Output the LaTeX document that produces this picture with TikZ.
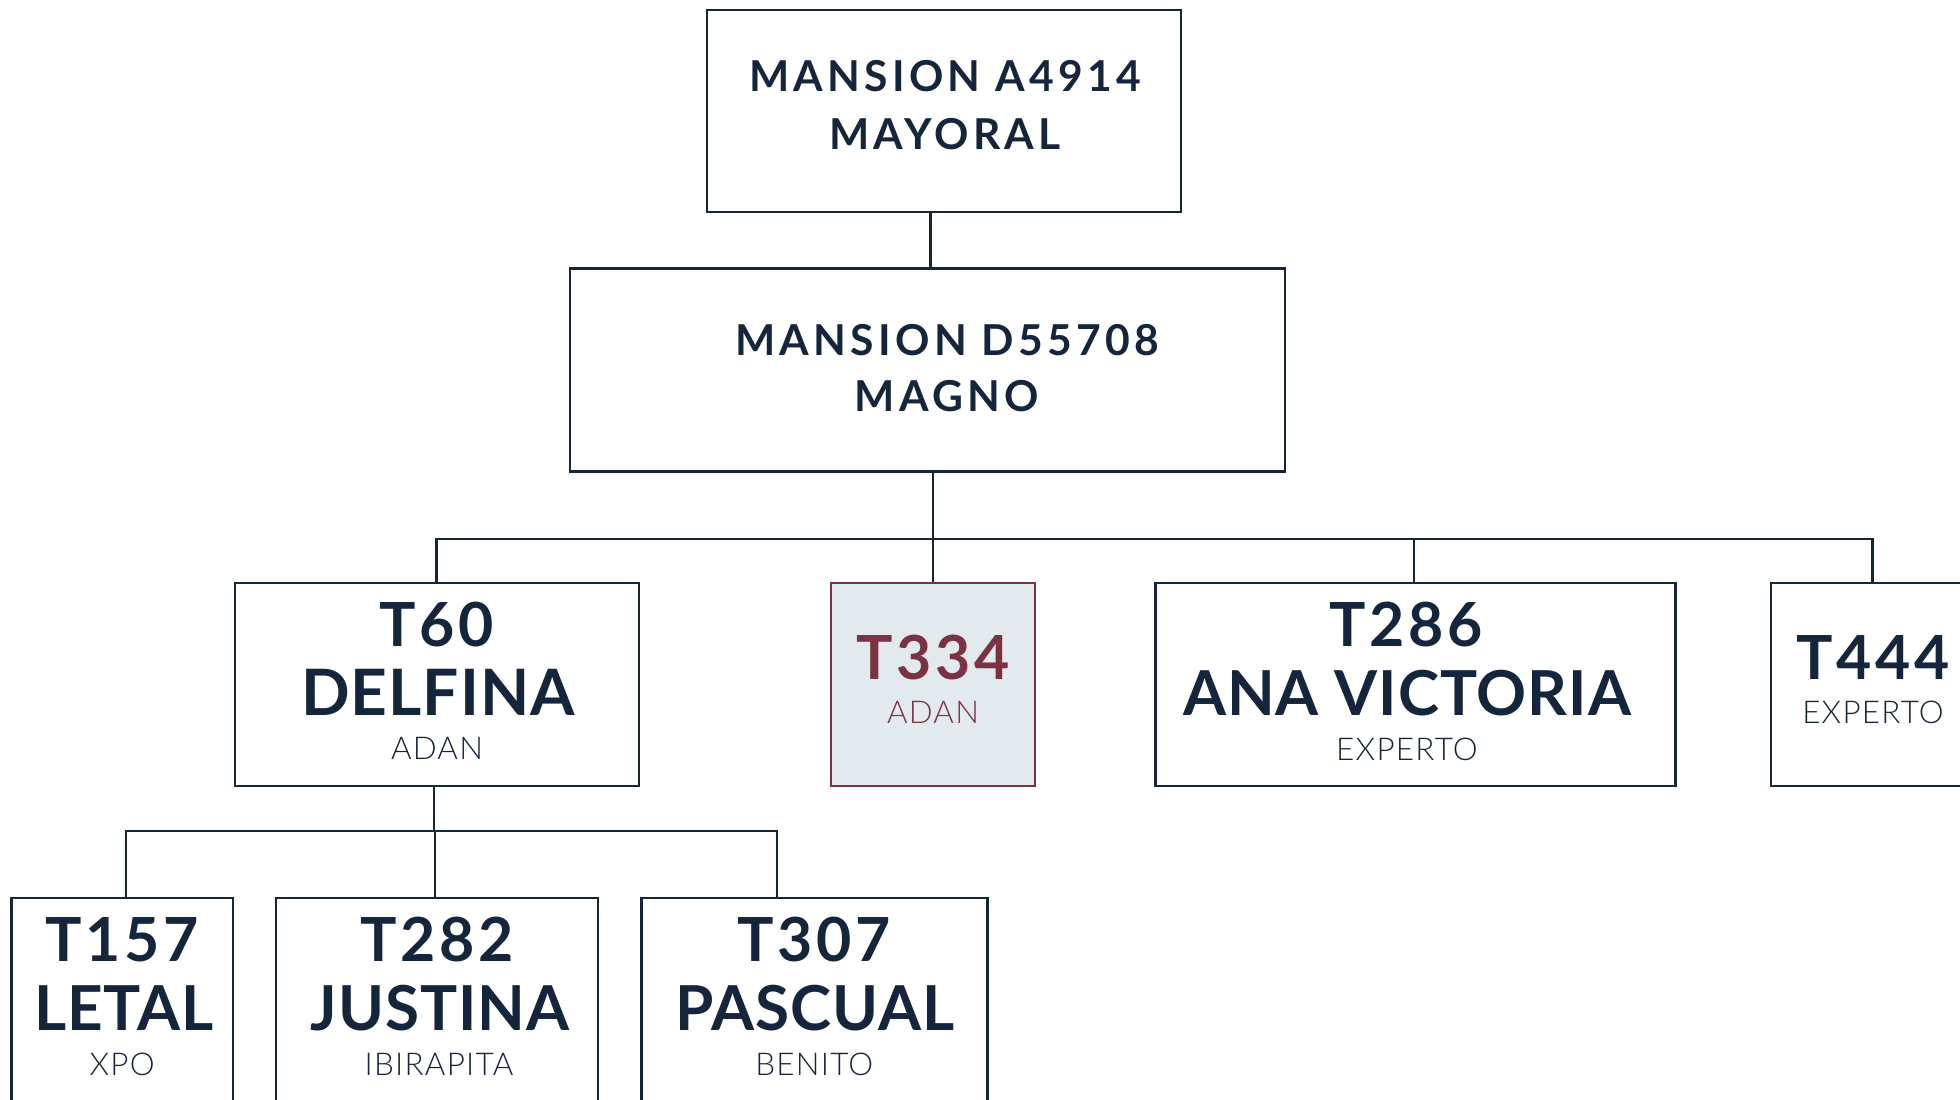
\documentclass[tikz,border=0pt]{standalone}
\usepackage{fontspec}
\setmainfont{Lato}
\newfontfamily\hvy{Lato Bold}[LetterSpace=6]
\newfontfamily\hvyh{Lato Bold}[LetterSpace=10]
\newfontfamily\hvyn{Lato Bold}[LetterSpace=1.5]
\newfontfamily\lgt{Lato Light}[LetterSpace=4]
\definecolor{navy}{HTML}{15263C}
\definecolor{wine}{HTML}{7B3344}
\definecolor{paleblue}{HTML}{E3EAEE}
\tikzset{
  box/.style={draw=navy, line width=1.35pt, rectangle, inner sep=0pt, fill=white},
  hot/.style={draw=wine, fill=paleblue},
  link/.style={draw=navy, line width=1.2pt},
  head/.style={anchor=base, inner sep=0pt, text=navy, font=\hvyh\fontsize{21.3}{24}\selectfont},
  num/.style={anchor=base, inner sep=0pt, text=navy, font=\hvy\fontsize{30.4}{34}\selectfont},
  nam/.style={anchor=base, inner sep=0pt, text=navy, font=\hvyn\fontsize{31}{34}\selectfont},
  sub/.style={anchor=base, inner sep=0pt, text=navy, font=\lgt\fontsize{15.7}{18}\selectfont},
}
\begin{document}
\begin{tikzpicture}[x=0.5pt, y=-0.5pt]
\useasboundingbox (0,0) rectangle (1960,1099);
\clip (0,0) rectangle (1960,1099);
% stem coordinates
\coordinate (sAB) at (930.5,0);
\coordinate (sB) at (932.8,0);
\coordinate (bus) at (0,539);
\coordinate (s60) at (436.5,0);
\coordinate (s334) at (932.8,0);
\coordinate (s286) at (1414,0);
\coordinate (s444) at (1872.3,0);
\coordinate (busb) at (0,831);
\coordinate (s60d) at (434,0);
\coordinate (s157) at (126,0);
\coordinate (s282) at (435,0);
\coordinate (s307) at (776.8,0);
% boxes
\node[box, minimum width=237pt, minimum height=101pt] (A) at (944,111) {};
\node[box, minimum width=357.5pt, minimum height=101.5pt] (B) at (927.5,370.2) {};
\node[box, minimum width=202pt, minimum height=101.5pt] (T60) at (437,684.5) {};
\node[box, hot, minimum width=102pt, minimum height=101.5pt] (T334) at (933,684.5) {};
\node[box, minimum width=260pt, minimum height=101.5pt] (T286) at (1415.7,684.5) {};
\node[box, minimum width=102pt, minimum height=101.5pt] (T444) at (1873,684.5) {};
\node[box, minimum width=110.75pt, minimum height=101.5pt] (T157) at (122.2,999.5) {};
\node[box, minimum width=161pt, minimum height=101.5pt] (T282) at (437,999.5) {};
\node[box, minimum width=173pt, minimum height=101.5pt] (T307) at (814.3,999.5) {};
% connectors
\draw[link] (A.south -| sAB) -- (B.north -| sAB);
\draw[link] (B.south -| sB) -- (bus -| sB);
\draw[link] (T60.north -| s60) -- (bus -| s60) -- (bus -| s444) -- (T444.north -| s444);
\draw[link] (bus -| s334) -- (T334.north -| s334);
\draw[link] (bus -| s286) -- (T286.north -| s286);
\draw[link] (T60.south -| s60d) -- (busb -| s60d);
\draw[link] (T157.north -| s157) -- (busb -| s157) -- (busb -| s307) -- (T307.north -| s307);
\draw[link] (busb -| s282) -- (T282.north -| s282);
% redraw boxes on top
\node[box, minimum width=237pt, minimum height=101pt] at (944,111) {};
\node[box, minimum width=357.5pt, minimum height=101.5pt] at (927.5,370.2) {};
\node[box, minimum width=202pt, minimum height=101.5pt] at (437,684.5) {};
\node[box, hot, minimum width=102pt, minimum height=101.5pt] at (933,684.5) {};
\node[box, minimum width=260pt, minimum height=101.5pt] at (1415.7,684.5) {};
\node[box, minimum width=102pt, minimum height=101.5pt] at (1873,684.5) {};
\node[box, minimum width=110.75pt, minimum height=101.5pt] at (122.2,999.5) {};
\node[box, minimum width=161pt, minimum height=101.5pt] at (437,999.5) {};
\node[box, minimum width=173pt, minimum height=101.5pt] at (814.3,999.5) {};
% texts
\node[head] (a1) at (945,91.7) {MANSION A4914};
\node[head] (a2) at (945,149) {MAYORAL};
\node[head] (b1) at (947,355) {MANSION D55708};
\node[head] (b2) at (947,411.7) {MAGNO};
\node[num] (t60a) at (437,646) {T60};
\node[nam, font=\hvyn\fontsize{32}{36}\selectfont] (t60b) at (438,715) {DELFINA};
\node[sub] (t60c) at (437,759.5) {ADAN};
\node[num, text=wine] (t334a) at (933,679.3) {T334};
\node[sub, text=wine] (t334b) at (933,723.3) {ADAN};
\node[num] (t286a) at (1406,646.5) {T286};
\node[nam] (t286b) at (1407,715) {ANA VICTORIA};
\node[sub] (t286c) at (1407,760) {EXPERTO};
\node[num] (t444a) at (1873,679.3) {T444};
\node[sub] (t444b) at (1873,723.3) {EXPERTO};
\node[num] (t157a) at (122.2,961.7) {T157};
\node[nam] (t157b) at (124,1030.7) {LETAL};
\node[sub] (t157c) at (122.2,1075) {XPO};
\node[num] (t282a) at (437,961.7) {T282};
\node[nam] (t282b) at (440,1030.7) {JUSTINA};
\node[sub] (t282c) at (439,1075) {IBIRAPITA};
\node[num] (t307a) at (814.3,961.7) {T307};
\node[nam] (t307b) at (815,1030.7) {PASCUAL};
\node[sub] (t307c) at (814.3,1075) {BENITO};
\end{tikzpicture}
\end{document}
